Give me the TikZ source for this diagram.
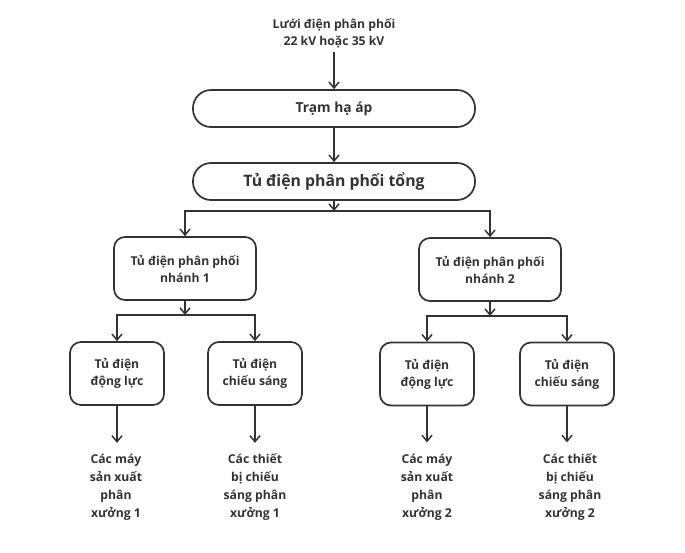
\documentclass[tikz,border=0pt]{standalone}
\usepackage{fontspec}
\setmainfont{Open Sans}
\usetikzlibrary{arrows.meta}
\definecolor{ink}{HTML}{333333}
\begin{document}
\begin{tikzpicture}[x=1pt,y=-1pt,
  box/.style={draw=ink, line width=1.7pt, rounded corners=11pt, align=center,
    font=\bfseries\fontsize{12.2}{17}\selectfont, text=ink, inner sep=0pt},
  pill/.style={box, rounded corners=18pt, minimum width=282pt, minimum height=37pt},
  leafbox/.style={box, minimum width=94pt, minimum height=63pt},
  branchbox/.style={box, minimum width=142pt, minimum height=63pt},
  plain/.style={align=center, text=ink, font=\bfseries\fontsize{12.2}{18}\selectfont, inner sep=0pt},
  conn/.style={draw=ink, line width=1.7pt},
  arr/.style={conn, -{Straight Barb[length=6pt,width=10pt,line width=1.5pt]}}
]
\useasboundingbox[fill=white] (0,0) rectangle (685,552);

\node[plain, font=\bfseries\fontsize{12.2}{17}\selectfont] (src) at (334,33) {Lưới điện phân phối\\22 kV hoặc 35 kV};
\node[pill, font=\bfseries\fontsize{13.8}{16}\selectfont] (tram) at (334,108.5) {Trạm hạ áp};
\node[pill, font=\bfseries\fontsize{15.8}{18}\selectfont] (tong) at (334,181.5) {Tủ điện phân phối tổng};

\node[branchbox] (b1) at (185,268.5) {Tủ điện phân phối\\nhánh 1};
\node[branchbox] (b2) at (490,269.5) {Tủ điện phân phối\\nhánh 2};

\node[leafbox] (l1a) at (117,373.5) {Tủ điện\\động lực};
\node[leafbox] (l1b) at (255,373.5) {Tủ điện\\chiếu sáng};
\node[leafbox] (l2a) at (427,374) {Tủ điện\\động lực};
\node[leafbox] (l2b) at (567,374) {Tủ điện\\chiếu sáng};

\node[plain] (t1a) at (116,487) {Các máy\\sản xuất\\phân\\xưởng 1};
\node[plain] (t1b) at (255,487) {Các thiết\\bị chiếu\\sáng phân\\xưởng 1};
\node[plain] (t2a) at (427,487) {Các máy\\sản xuất\\phân\\xưởng 2};
\node[plain] (t2b) at (570,487) {Các thiết\\bị chiếu\\sáng phân\\xưởng 2};

\coordinate (j0) at (334,211);
\coordinate (j1) at (185,315);
\coordinate (j2) at (490,316);

\draw[arr] (src.south) ++(0,4) -- (tram.north);
\draw[arr] (tram) -- (tong);
\draw[arr] (tong) -- (j0);
\draw[arr] (j0) -| (b1.north);
\draw[arr] (j0) -| (b2.north);

\draw[arr] (b1) -- (j1);
\draw[arr] (j1) -| (l1a.north);
\draw[arr] (j1) -| (l1b.north);
\draw[arr] (b2) -- (j2);
\draw[arr] (j2) -| (l2a.north);
\draw[arr] (j2) -| (l2b.north);

\draw[arr] (l1a.south) -- ++(0,37) coordinate (e1);
\draw[arr] (l1b.south) -- ++(0,37) coordinate (e2);
\draw[arr] (l2a.south) -- ++(0,36) coordinate (e3);
\draw[arr] (l2b.south) -- ++(0,36) coordinate (e4);
\end{tikzpicture}
\end{document}
